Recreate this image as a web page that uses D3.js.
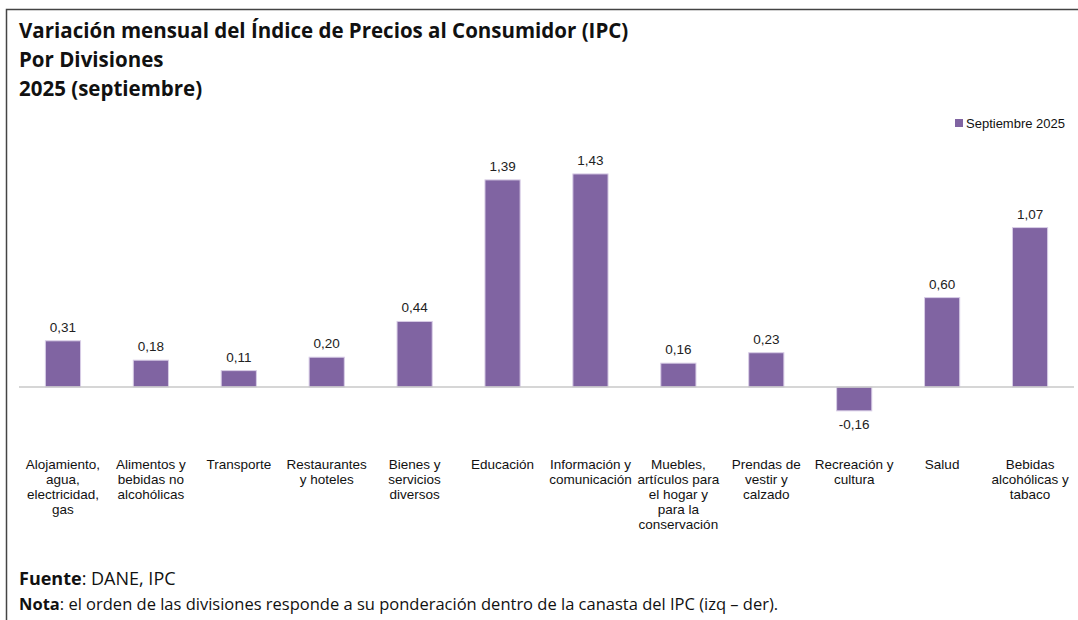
<!DOCTYPE html>
<html>
<head>
<meta charset="utf-8">
<script src="https://cdn.jsdelivr.net/npm/d3@7"></script>
<style>
  body { margin: 0; background: #fff; }
  svg { display: block; }
</style>
</head>
<body>
<svg id="chart"></svg>
<script>
// categories (each entry is one wrapped label, line by line)
const categories = [
  ['Alojamiento,', 'agua,', 'electricidad,', 'gas'],
  ['Alimentos y', 'bebidas no', 'alcohólicas'],
  ['Transporte'],
  ['Restaurantes', 'y hoteles'],
  ['Bienes y', 'servicios', 'diversos'],
  ['Educación'],
  ['Información y', 'comunicación'],
  ['Muebles,', 'artículos para', 'el hogar y', 'para la', 'conservación'],
  ['Prendas de', 'vestir y', 'calzado'],
  ['Recreación y', 'cultura'],
  ['Salud'],
  ['Bebidas', 'alcohólicas y', 'tabaco']
];
const values = [0.31, 0.18, 0.11, 0.20, 0.44, 1.39, 1.43, 0.16, 0.23, -0.16, 0.60, 1.07];
const seriesName = 'Septiembre 2025';
const titleLines = ['Variación mensual del Índice de Precios al Consumidor (IPC)', 'Por Divisiones', '2025 (septiembre)'];

const W = 1078, H = 620;
const purple = '#8064a2';
const svg = d3.select('#chart').attr('width', W).attr('height', H);

// frame
svg.append('path')
  .attr('d', `M${W},9.5 H6.5 V${H}`)
  .attr('fill', 'none')
  .attr('stroke', '#444')
  .attr('stroke-width', 1.5);

// titles
svg.selectAll('.title')
  .data(titleLines)
  .join('text')
  .attr('class', 'title')
  .attr('x', 19)
  .attr('y', (d, i) => 38 + i * 29)
  .attr('font-family', 'Open Sans, sans-serif')
  .attr('font-weight', 700)
  .attr('font-size', 20.5)
  .attr('fill', '#111')
  .text(d => d);

// scales
const x = d3.scaleBand()
  .domain(d3.range(categories.length))
  .range([19, 1074])
  .paddingInner(0.6)
  .paddingOuter(0.3);

const y = d3.scaleLinear()
  .domain([-0.16, 1.43])
  .range([387 + 0.16 * 149, 387 - 1.43 * 149]);

const chart = svg.append('g');

chart.selectAll('.bar')
  .data(values)
  .join('rect')
  .attr('class', 'bar')
  .attr('x', (d, i) => x(i))
  .attr('width', x.bandwidth())
  .attr('y', d => y(Math.max(0, d)))
  .attr('height', d => Math.abs(y(d) - y(0)))
  .attr('fill', purple)
  .attr('stroke', '#d8cde6')
  .attr('stroke-width', 1);

// zero axis line
chart.append('line')
  .attr('x1', 19).attr('x2', 1074)
  .attr('y1', y(0)).attr('y2', y(0))
  .attr('stroke', '#c8c8c8')
  .attr('stroke-width', 1.5);

// value labels
const fmt = d => d3.format('.2f')(d).replace('.', ',').replace('−', '-');
chart.selectAll('.val')
  .data(values)
  .join('text')
  .attr('class', 'val')
  .attr('x', (d, i) => x(i) + x.bandwidth() / 2)
  .attr('y', d => d >= 0 ? y(d) - 9 : y(d) + 18)
  .attr('text-anchor', 'middle')
  .attr('font-family', 'Liberation Sans, Arial, sans-serif')
  .attr('font-size', 13.5)
  .attr('fill', '#222')
  .text(fmt);

// category labels
const cat = chart.selectAll('.cat')
  .data(categories)
  .join('text')
  .attr('class', 'cat')
  .attr('text-anchor', 'middle')
  .attr('font-family', 'Liberation Sans, Arial, sans-serif')
  .attr('font-size', 13.5)
  .attr('fill', '#111');
cat.selectAll('tspan')
  .data((d, i) => d.map(t => ({ t, i })))
  .join('tspan')
  .attr('x', d => x(d.i) + x.bandwidth() / 2)
  .attr('y', (d, j) => 469 + j * 15)
  .text(d => d.t);

// legend
const lg = svg.append('g').attr('transform', 'translate(955,119)');
lg.append('rect').attr('width', 8).attr('height', 8).attr('fill', purple);
lg.append('text')
  .attr('x', 11).attr('y', 8.5)
  .attr('font-family', 'Liberation Sans, Arial, sans-serif')
  .attr('font-size', 13)
  .attr('fill', '#111')
  .text(seriesName);

// footer
const f1 = svg.append('text')
  .attr('x', 19).attr('y', 585)
  .attr('font-family', 'Open Sans, sans-serif')
  .attr('font-size', 18)
  .attr('fill', '#111');
f1.append('tspan').attr('font-weight', 700).text('Fuente');
f1.append('tspan').text(': DANE, IPC');

const f2 = svg.append('text')
  .attr('x', 19).attr('y', 610)
  .attr('font-family', 'Open Sans, sans-serif')
  .attr('font-size', 16.5)
  .attr('fill', '#111');
f2.append('tspan').attr('font-weight', 700).text('Nota');
f2.append('tspan').text(': el orden de las divisiones responde a su ponderación dentro de la canasta del IPC (izq – der).');
</script>
</body>
</html>
